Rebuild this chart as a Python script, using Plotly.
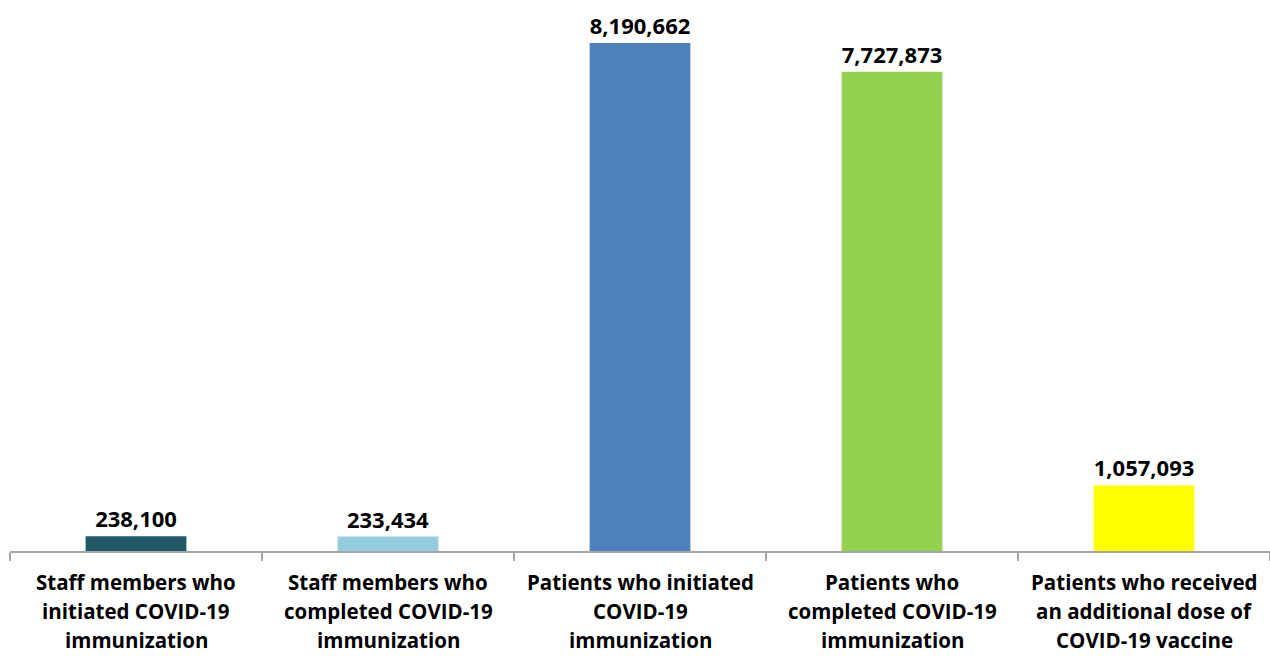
import plotly.graph_objects as go

categories = [
    "Staff members who<br>initiated COVID-19<br>immunization",
    "Staff members who<br>completed COVID-19<br>immunization",
    "Patients who initiated<br>COVID-19<br>immunization",
    "Patients who<br>completed COVID-19<br>immunization",
    "Patients who received<br>an additional dose of<br>COVID-19 vaccine",
]
values = [238100, 233434, 8190662, 7727873, 1057093]
colors = ["#215968", "#93CDDD", "#4F81BD", "#92D050", "#FFFF00"]

labels = [f"{v:,}" for v in values]
positions = list(range(len(values)))

fig = go.Figure(
    go.Bar(
        x=positions,
        y=values,
        marker=dict(color=colors, line=dict(width=0)),
        width=0.4,
        text=labels,
        textposition="outside",
        textfont=dict(family="Open Sans", size=22, color="#000000", weight="bold"),
        cliponaxis=False,
    )
)

# Category labels, one annotation per line for wider line spacing
line_step = 29
for pos, cat in zip(positions, categories):
    for k, line in enumerate(cat.split("<br>")):
        fig.add_annotation(
            x=pos,
            y=0,
            xref="x",
            yref="paper",
            text=line,
            showarrow=False,
            xanchor="center",
            yanchor="top",
            yshift=-16 - line_step * k,
            borderpad=0,
            font=dict(family="Open Sans", size=20.5, color="#000000", weight="bold"),
        )

fig.update_layout(
    width=1270,
    height=656,
    margin=dict(l=10, r=0, t=10, b=105),
    plot_bgcolor="white",
    paper_bgcolor="white",
    showlegend=False,
)
fig.update_xaxes(
    type="category",
    tickmode="array",
    tickvals=positions,
    ticktext=[""] * len(positions),
    tickson="boundaries",
    ticks="outside",
    ticklen=8,
    tickwidth=2,
    tickcolor="#a6a6a6",
    showline=True,
    linecolor="#a6a6a6",
    linewidth=2,
    showgrid=False,
    range=[-0.5, 4.5],
)
fig.update_yaxes(
    range=[0, 8722800],
    visible=False,
    showgrid=False,
    zeroline=False,
)

fig.write_html("out.html")
